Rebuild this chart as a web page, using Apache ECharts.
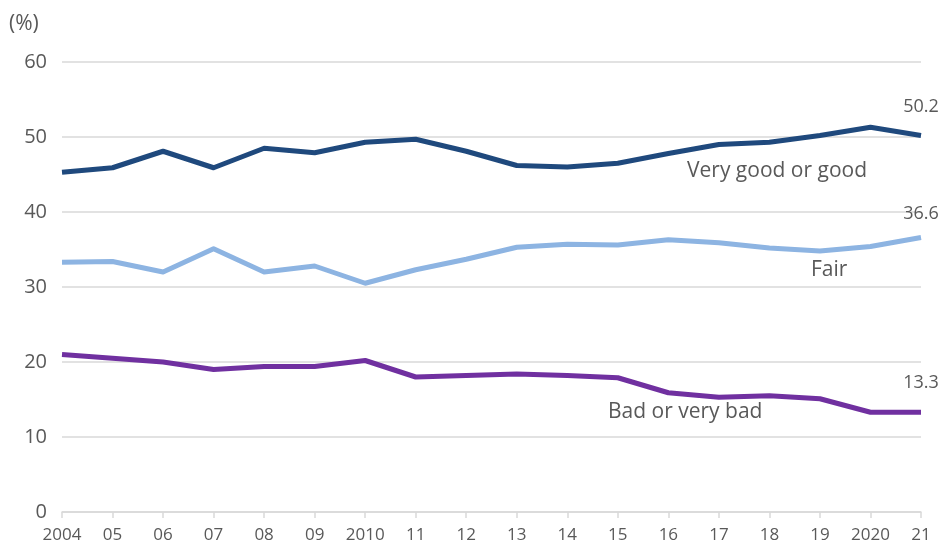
<!DOCTYPE html>
<html>
<head>
<meta charset="utf-8">
<script src="https://cdn.jsdelivr.net/npm/echarts@6/dist/echarts.min.js"></script>
<style>
  html, body { margin: 0; padding: 0; background: #fff; }
  #chart { width: 939px; height: 548px; }
</style>
</head>
<body>
<div id="chart"></div>
<script>
// Survey years on the horizontal axis
const years = ['2004', '05', '06', '07', '08', '09', '2010', '11', '12', '13', '14', '15', '16', '17', '18', '19', '2020', '21'];

// Share of respondents (%) by self-rated health
const veryGoodOrGood = [45.3, 45.9, 48.1, 45.9, 48.5, 47.9, 49.3, 49.7, 48.1, 46.2, 46.0, 46.5, 47.8, 49.0, 49.3, 50.2, 51.3, 50.2];
const fair = [33.3, 33.4, 32.0, 35.1, 32.0, 32.8, 30.5, 32.3, 33.7, 35.3, 35.7, 35.6, 36.3, 35.9, 35.2, 34.8, 35.4, 36.6];
const badOrVeryBad = [21.0, 20.5, 20.0, 19.0, 19.4, 19.4, 20.2, 18.0, 18.2, 18.4, 18.2, 17.9, 15.9, 15.3, 15.5, 15.1, 13.3, 13.3];

const seriesNames = ['Very good or good', 'Fair', 'Bad or very bad'];
const yTicks = [0, 10, 20, 30, 40, 50, 60];

const FONT = '"Open Sans", "Noto Sans", sans-serif';
const TEXT = '#595959';

// Only the final year carries a value label
function withEndLabel(values, distance) {
  return values.map((v, i) => i === values.length - 1
    ? { value: v, label: { show: true, position: 'top', distance: distance, formatter: (p) => p.value.toFixed(1), fontSize: 18, color: TEXT, fontFamily: FONT } }
    : v);
}

function lineSeries(name, values, color, distance) {
  return {
    name: name,
    type: 'line',
    data: withEndLabel(values, distance),
    symbol: 'circle',
    symbolSize: 0,
    showSymbol: true,
    showAllSymbol: true,
    lineStyle: { color: color, width: 5, cap: 'butt', join: 'round' },
    itemStyle: { color: color },
    z: 3
  };
}

const chart = echarts.init(document.getElementById('chart'), null, { renderer: 'canvas' });
chart.setOption({
  animation: false,
  backgroundColor: '#ffffff',
  grid: { left: 62, right: 18, top: 62, bottom: 36, containLabel: false },
  xAxis: {
    type: 'category',
    data: years,
    boundaryGap: false,
    axisLine: { lineStyle: { color: '#d9d9d9', width: 1.5 } },
    axisTick: { show: true, alignWithLabel: true, length: 6, lineStyle: { color: '#d9d9d9', width: 1.5 } },
    axisLabel: { color: TEXT, fontSize: 17, fontFamily: FONT, margin: 15, interval: 0 }
  },
  yAxis: {
    type: 'value',
    min: yTicks[0],
    max: yTicks[yTicks.length - 1],
    interval: 10,
    axisLine: { show: false },
    axisTick: { show: false },
    splitLine: { lineStyle: { color: '#d9d9d9', width: 1.5 } },
    axisLabel: { color: TEXT, fontSize: 20, fontFamily: FONT, margin: 15 }
  },
  series: [
    lineSeries(seriesNames[0], veryGoodOrGood, '#1f497d', 20),
    lineSeries(seriesNames[1], fair, '#8db4e2', 15),
    lineSeries(seriesNames[2], badOrVeryBad, '#7030a0', 20)
  ],
  graphic: [
    { type: 'text', left: 9, top: 14, style: { text: '(%)', fill: TEXT, font: '21px ' + FONT } },
    { type: 'text', left: 687, top: 161, style: { text: seriesNames[0], fill: TEXT, font: '21px ' + FONT } },
    { type: 'text', left: 811, top: 260, style: { text: seriesNames[1], fill: TEXT, font: '21px ' + FONT } },
    { type: 'text', left: 608, top: 402, style: { text: seriesNames[2], fill: TEXT, font: '21px ' + FONT } }
  ]
});
</script>
</body>
</html>
